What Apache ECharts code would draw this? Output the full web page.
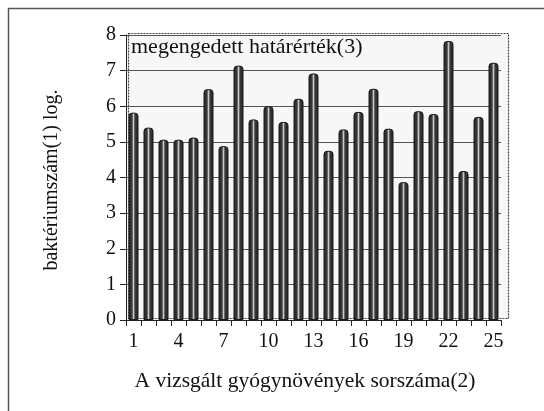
<!DOCTYPE html>
<html><head><meta charset="utf-8">
<script src="https://cdn.jsdelivr.net/npm/echarts@6/dist/echarts.min.js"></script>
<style>html,body{margin:0;padding:0;background:#fff}#c{width:544px;height:411px}</style>
</head><body><div id="c"></div>
<script>
var categories = ['1','2','3','4','5','6','7','8','9','10','11','12','13','14','15','16','17','18','19','20','21','22','23','24','25'];
var values = [5.82, 5.40, 5.06, 5.06, 5.12, 6.48, 4.88, 7.14, 5.63, 6.00, 5.56, 6.21, 6.92, 4.75, 5.35, 5.84, 6.49, 5.37, 3.87, 5.86, 5.78, 7.83, 4.18, 5.70, 7.22];
var yTicks = [0,1,2,3,4,5,6,7,8];
var yTitle = 'baktériumszám(1) log.';
var xTitle = 'A vizsgált gyógynövények sorszáma(2)';
var note = 'megengedett határérték(3)';

var chart = echarts.init(document.getElementById('c'));
var serif = '"Liberation Serif","DejaVu Serif",serif';
chart.setOption({
  animation: false,
  backgroundColor: '#fff',
  graphic: [
    {type:'rect', shape:{x:8.5,y:8.5,width:560,height:420}, style:{fill:'none',stroke:'#555',lineWidth:1.5}, silent:true},
    {type:'rect', z:-1, shape:{x:128.5,y:33.5,width:380,height:285}, style:{fill:'#f7f7f7',stroke:'#444',lineWidth:1.2,lineDash:[2,1]}, silent:true},
    {type:'text', left:131, top:36, style:{text:note, font:'22px ' + serif, fill:'#111'}},
    {type:'text', x:52, y:180, rotation:Math.PI/2, style:{text:yTitle, font:'20px ' + serif, fill:'#111', align:'center', verticalAlign:'middle'}},
    {type:'text', x:305, y:381, style:{text:xTitle, font:'21.5px ' + serif, fill:'#111', align:'center', verticalAlign:'middle'}}
  ],
  grid: {left:126, top:35, right:43, bottom:91, show:false},
  xAxis: {
    type:'category', data:categories,
    axisLine:{lineStyle:{color:'#222', width:1}},
    axisTick:{show:true, interval:0, length:6, lineStyle:{color:'#222'}},
    axisLabel:{interval:2, color:'#111', fontFamily:serif, fontSize:20, margin:12}
  },
  yAxis: {
    type:'value', min:0, max:8, interval:1,
    axisLine:{show:true, lineStyle:{color:'#222', width:1}},
    axisTick:{show:true, length:6, lineStyle:{color:'#222'}},
    axisLabel:{color:'#111', fontFamily:serif, fontSize:20, margin:10,
      formatter:function(v){return yTicks.indexOf(v)>=0 ? String(v) : '';}},
    splitLine:{show:true, lineStyle:{color:'#555', width:1}}
  },
  series: [{
    type:'bar', data:values, barWidth:10,
    itemStyle:{
      borderColor:'#1a1a1a', borderWidth:1,
      borderRadius:[3,3,0,0],
      color:{type:'linear', x:0, y:0, x2:1, y2:0, colorStops:[
        {offset:0, color:'#222'},{offset:0.35, color:'#3a3a3a'},{offset:0.5, color:'#c8c8c8'},{offset:0.65, color:'#3a3a3a'},{offset:1, color:'#222'}]}
    }
  }]
});
</script></body></html>
